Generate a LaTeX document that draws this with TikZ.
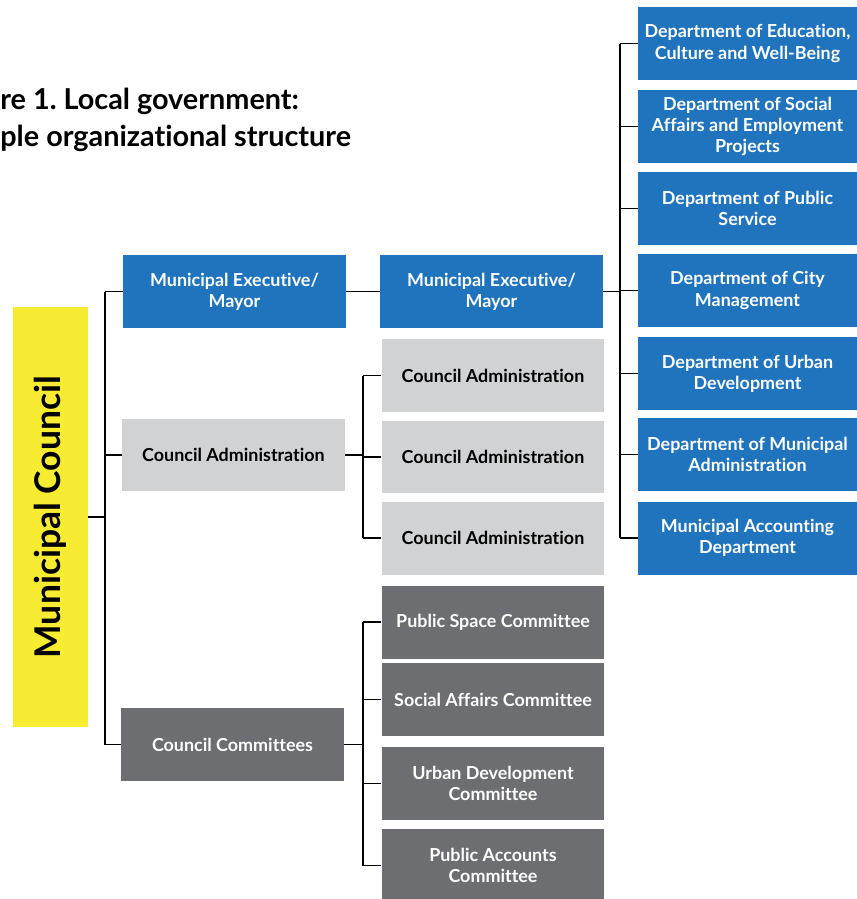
\documentclass[tikz,border=0pt]{standalone}
\usepackage{fontspec}
\setmainfont{Lato}[Ligatures=NoCommon]
\frenchspacing
\usepackage{tikz}
\usetikzlibrary{calc,positioning}
\definecolor{orgblue}{RGB}{31,116,189}
\definecolor{orglight}{RGB}{209,210,212}
\definecolor{orgdark}{RGB}{109,110,113}
\definecolor{orgyellow}{RGB}{247,236,50}

\begin{document}
\begin{tikzpicture}[
    x=0.02cm, y=-0.02cm,
    unit/.style={rectangle, minimum width=4.46cm, minimum height=1.46cm, inner sep=0pt, align=center, font=\fontsize{10.2}{12}\selectfont\bfseries},
    exec-unit/.style={unit, fill=orgblue, text=white},
    admin-unit/.style={unit, fill=orglight, text=black},
    committee-unit/.style={unit, fill=orgdark, text=white},
    dept-unit/.style={unit, minimum width=4.38cm, fill=orgblue, text=white},
    council/.style={rectangle, minimum width=1.5cm, minimum height=8.4cm, inner sep=0pt, fill=orgyellow, font=\fontsize{20.2}{24}\selectfont\bfseries},
    heading/.style={align=left, inner sep=0pt, font=\fontsize{16.4}{20.5}\selectfont\bfseries, text=black},
    link/.style={line width=1.1pt, black}
]
\useasboundingbox (0,0) rectangle (856,899);

% Heading
\node[heading, anchor=base west] (title) at (0,146) {re 1. Local government:\\ple organizational structure};

% Council
\node[council] (mc) at (50.5,517) {\rotatebox{90}{Municipal Council}};

% First level
\node[exec-unit] (me1) at (234.5,291.5) {Municipal Executive/\\Mayor};
\node[admin-unit] (ca1) at (233.5,455) {Council Administration};
\node[committee-unit] (cc1) at (232.5,744.5) {Council Committees};

% Second level
\node[exec-unit] (me2) at (491.5,291.5) {Municipal Executive/\\Mayor};
\node[admin-unit] (ca2) at (493,375.5) {Council Administration};
\node[admin-unit] (ca3) at (493,457) {Council Administration};
\node[admin-unit] (ca4) at (493,538) {Council Administration};
\node[committee-unit] (pc1) at (493,622) {Public Space Committee};
\node[committee-unit] (pc2) at (493,699.5) {Social Affairs Committee};
\node[committee-unit] (pc3) at (493,783.5) {Urban Development\\Committee};
\node[committee-unit] (pc4) at (493,865.5) {Public Accounts\\Committee};

% Departments
\node[dept-unit] (d1) at (747.5,43.5) {Department of Education,\\Culture and Well-Being};
\node[dept-unit] (d2) at (747.5,126.5) {Department of Social\\Affairs and Employment\\Projects};
\node[dept-unit] (d3) at (747.5,208.5) {Department of Public\\Service};
\node[dept-unit] (d4) at (747.5,290.5) {Department of City\\Management};
\node[dept-unit] (d5) at (747.5,373.5) {Department of Urban\\Development};
\node[dept-unit] (d6) at (747.5,454.5) {Department of Municipal\\Administration};
\node[dept-unit] (d7) at (747.5,538) {Municipal Accounting\\Department};

% Council to first level
\draw[link] (mc.east) -- ++(17,0) coordinate (s1);
\draw[link] (s1 |- me1.west) -- (s1 |- cc1.west);
\foreach \n in {me1,ca1,cc1}
  \draw[link] (s1 |- \n.west) -- (\n.west);

% Executive
\draw[link] (me1.east) -- (me2.west);

% Administration
\draw[link] (ca1.east) -- ++(18,0) coordinate (s2);
\draw[link] (s2 |- ca2.west) -- (s2 |- ca4.west);
\foreach \n in {ca2,ca3,ca4}
  \draw[link] (s2 |- \n.west) -- (\n.west);

% Committees
\draw[link] (cc1.east) -- ++(19,0) coordinate (s3);
\draw[link] (s3 |- pc1.west) -- (s3 |- pc4.west);
\foreach \n in {pc1,pc2,pc3,pc4}
  \draw[link] (s3 |- \n.west) -- (\n.west);

% Departments
\draw[link] (me2.east) -- ++(17,0) coordinate (s4);
\draw[link] (s4 |- d1.west) -- (s4 |- d7.west);
\foreach \n in {d1,d2,d3,d4,d5,d6,d7}
  \draw[link] (s4 |- \n.west) -- (\n.west);

\end{tikzpicture}
\end{document}
